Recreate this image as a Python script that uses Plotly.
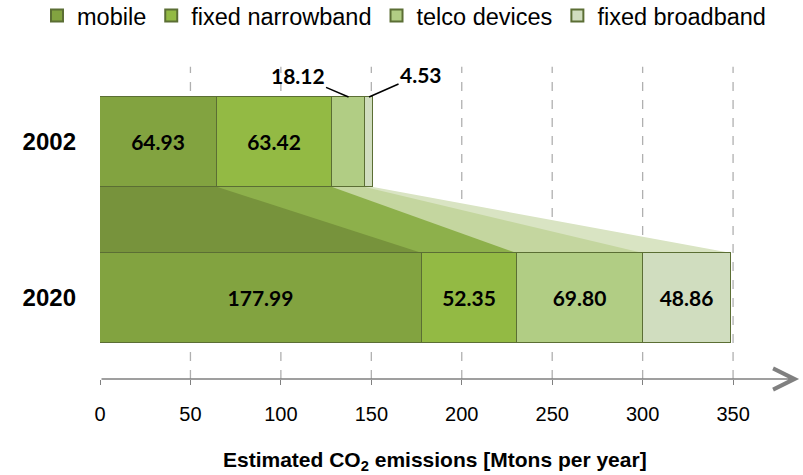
import plotly.graph_objects as go

years = ["2002", "2020"]
year_pos = [1, 0]
series = ["mobile", "fixed narrowband", "telco devices", "fixed broadband"]
values_2002 = [64.93, 63.42, 18.12, 4.53]
values_2020 = [177.99, 52.35, 69.80, 48.86]
tick_vals = [0, 50, 100, 150, 200, 250, 300, 350]

bar_colors = ["#82a340", "#93ba44", "#b1cd84", "#d0ddbf"]
fan_colors = ["#77933c", "#8db04b", "#c4d69f", "#d9e4c3"]

BAR_W = 0.577
X_MAX = 387

fig = go.Figure()

# fan-shaped connectors between the two bars (cumulative sums)
cum02, cum20 = [], []
s1 = s2 = 0
for a, b in zip(values_2002, values_2020):
    s1 += a; s2 += b
    cum02.append(s1); cum20.append(s2)

y_top = year_pos[0] - BAR_W / 2
y_bot = year_pos[1] + BAR_W / 2
for i in reversed(range(len(series))):
    path = f"M 0 {y_top} L {cum02[i]} {y_top} L {cum20[i]} {y_bot} L 0 {y_bot} Z"
    fig.add_shape(type="path", path=path, fillcolor=fan_colors[i],
                  line=dict(width=0), layer="below")

# dashed gridlines
for v in tick_vals[1:]:
    fig.add_shape(type="line", x0=v, x1=v, y0=0, y1=0.985, xref="x", yref="paper",
                  line=dict(color="#b0b0b0", width=1.3, dash="dash"), layer="below")

for i, name in enumerate(series):
    vals = [values_2002[i], values_2020[i]]
    txt = [f"{v:.2f}" if v >= 30 else "" for v in vals]
    fig.add_trace(go.Bar(
        name=name, orientation="h", y=year_pos, x=vals, width=BAR_W,
        marker=dict(color=bar_colors[i], line=dict(color="#5b6e34", width=1)),
        text=txt, textposition="inside", insidetextanchor="middle",
        constraintext="none",
        textfont=dict(family="Lato, Open Sans, sans-serif", size=21, color="#000000", weight="bold"),
        hoverinfo="x+name",
    ))

# small-segment callouts for 2002
small_offsets = {2: (-51, -22), 3: (52, -23)}
for i, (ax, ay) in small_offsets.items():
    xc = cum02[i] - values_2002[i] / 2
    fig.add_annotation(x=xc, y=year_pos[0] + BAR_W / 2, xref="x", yref="y",
                       text=f"<b>{values_2002[i]:.2f}</b>", showarrow=True,
                       arrowhead=0, arrowwidth=1.5, arrowcolor="#000000",
                       ax=ax, ay=ay, standoff=0,
                       font=dict(family="Lato, Open Sans, sans-serif", size=21, color="#000000"))

# x axis line with arrow
fig.add_annotation(x=X_MAX - 0.5, y=0, xref="x", yref="paper", ax=0, ay=0,
                   axref="x", ayref="pixel", text="", showarrow=True,
                   arrowhead=5, arrowsize=2.8, arrowwidth=1.5, arrowcolor="#808080",
                   standoff=0)

# axis title
fig.add_annotation(x=185, y=0, xref="x", yref="paper",
                   yshift=-97, showarrow=False,
                   text="<b>Estimated CO<sub>2</sub> emissions [Mtons per year]</b>",
                   font=dict(family="Liberation Sans, Arial, sans-serif", size=21, color="#000000"))

fig.update_layout(
    width=803, height=475,
    margin=dict(l=100, r=3, t=62, b=96, autoexpand=False),
    barmode="stack", bargap=0,
    plot_bgcolor="white", paper_bgcolor="white",
    font=dict(family="Liberation Sans, Arial, sans-serif", color="#000000"),
    showlegend=True,
    legend=dict(orientation="h", x=-0.09, y=1.215, xanchor="left", yanchor="top",
                font=dict(size=23.5), traceorder="normal",
                itemsizing="constant", tracegroupgap=0),
    xaxis=dict(range=[0, X_MAX], tickvals=tick_vals, showgrid=False, zeroline=False,
               showline=False, ticks="outside", ticklen=5, tickwidth=1.3, tickcolor="#808080",
               ticklabelstandoff=12, tickfont=dict(size=20)),
    yaxis=dict(range=[-0.519, 1.513], tickvals=year_pos, ticktext=years,
               showgrid=False, zeroline=False, showline=False, ticks="",
               ticklabelstandoff=23,
               tickfont=dict(size=24, family="Liberation Sans, Arial, sans-serif", weight="bold")),
)

fig.write_html("out.html", config={"displayModeBar": False},
               post_script="document.body.style.margin='0';document.body.style.overflow='hidden';")
